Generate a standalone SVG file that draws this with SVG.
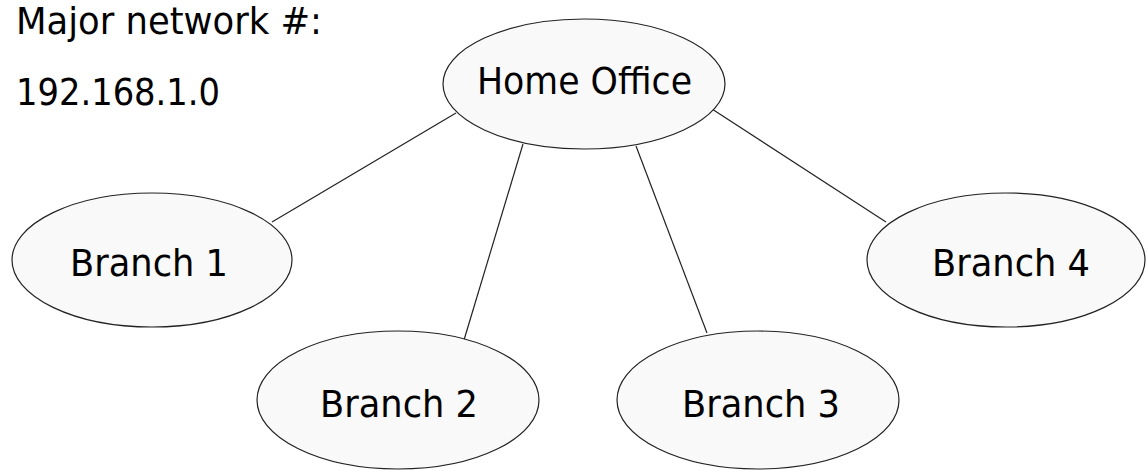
<svg xmlns="http://www.w3.org/2000/svg" width="1146" height="471" viewBox="0 0 1146 471">
<style>
.n ellipse{fill:#f9f9f9;stroke:#222;stroke-width:1.2}
text{font-family:"DejaVu Sans",Verdana,sans-serif;font-size:38px;fill:#000}
.c line{stroke:#222;stroke-width:1.2}
</style>
<rect width="1146" height="471" fill="#fff"/>
<g id="label">
<text x="16" y="34" textLength="306" lengthAdjust="spacingAndGlyphs">Major network #:</text>
<text x="16" y="105" textLength="204" lengthAdjust="spacingAndGlyphs">192.168.1.0</text>
</g>
<g class="c" id="connectors">
<line x1="456" y1="113" x2="272" y2="222"/>
<line x1="523" y1="144" x2="464" y2="340"/>
<line x1="636" y1="146" x2="707" y2="333"/>
<line x1="712" y1="109" x2="886" y2="222"/>
</g>
<g class="n" id="home">
<ellipse cx="584" cy="84" rx="141" ry="65"/>
<text x="477" y="94" textLength="215" lengthAdjust="spacingAndGlyphs">Home Office</text>
</g>
<g class="n" id="branch1">
<ellipse cx="152" cy="260" rx="140" ry="67"/>
<text x="70" y="276" textLength="158" lengthAdjust="spacingAndGlyphs">Branch 1</text>
</g>
<g class="n" id="branch2">
<ellipse cx="398" cy="400" rx="141" ry="69"/>
<text x="320" y="417" textLength="158" lengthAdjust="spacingAndGlyphs">Branch 2</text>
</g>
<g class="n" id="branch3">
<ellipse cx="758" cy="400" rx="141" ry="69"/>
<text x="682" y="417" textLength="158" lengthAdjust="spacingAndGlyphs">Branch 3</text>
</g>
<g class="n" id="branch4">
<ellipse cx="1006" cy="260" rx="139" ry="67"/>
<text x="932" y="276" textLength="158" lengthAdjust="spacingAndGlyphs">Branch 4</text>
</g>
</svg>
